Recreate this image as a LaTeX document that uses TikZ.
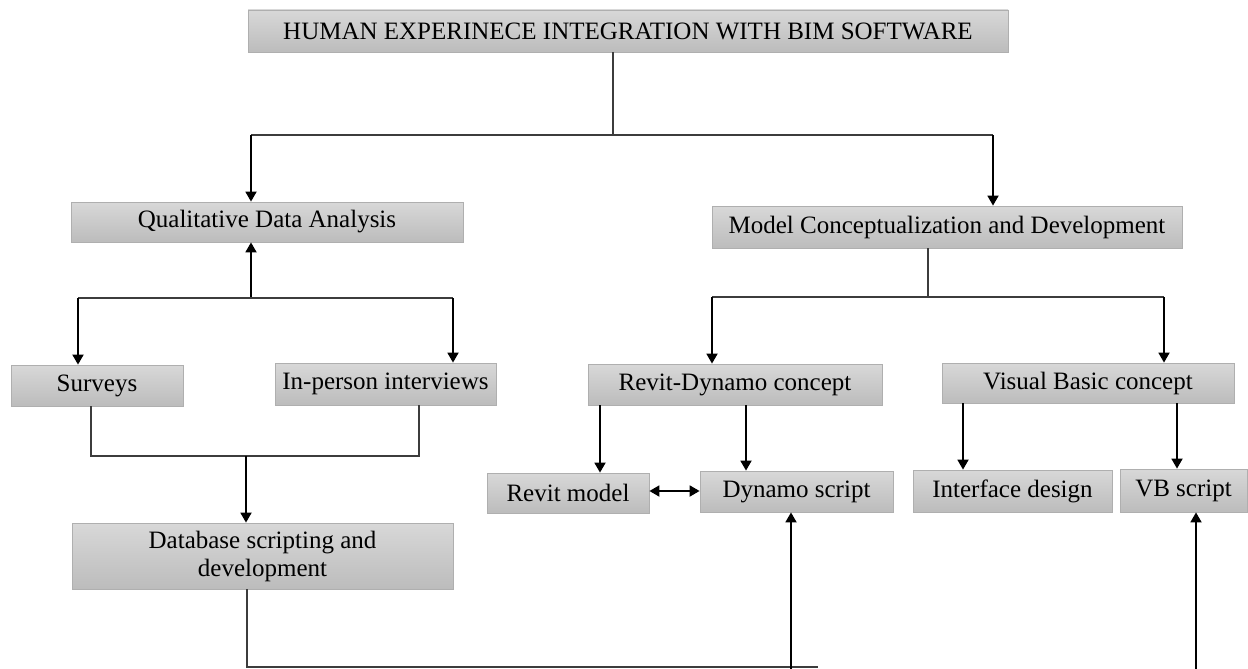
\documentclass[tikz,border=0pt]{standalone}
\usepackage{fontspec}
\setmainfont{Liberation Serif}
\usetikzlibrary{arrows.meta}
\definecolor{boxtop}{RGB}{216,216,216}
\definecolor{boxbot}{RGB}{188,188,188}
\definecolor{boxline}{RGB}{175,175,175}
\definecolor{plainline}{RGB}{60,60,60}
\tikzset{
  box/.style={draw=boxline, line width=0.8pt, top color=boxtop, bottom color=boxbot,
    inner sep=0pt, align=center, font=\fontsize{25}{28}\selectfont},
  plain/.style={draw=plainline, line width=1.3pt},
  arr/.style={draw=black, line width=1.8pt, -{Triangle[width=11pt,length=10pt]}},
  darr/.style={draw=black, line width=1.8pt, {Triangle[width=11pt,length=10pt]}-{Triangle[width=11pt,length=10pt]}}
}
\begin{document}
\begin{tikzpicture}[x=1pt,y=-1pt]
\useasboundingbox (0,0) rectangle (1248,669);
% boxes
\node[box, minimum width=760pt, minimum height=42pt] (title) at (628,31) {HUMAN EXPERINECE INTEGRATION WITH BIM SOFTWARE};
\node[box, minimum width=392pt, minimum height=40pt] (qual) at (267,222) {Qualitative Data Analysis};
\node[box, minimum width=470pt, minimum height=42pt] (model) at (947,227) {Model Conceptualization and Development};
\node[box, minimum width=172pt, minimum height=41pt] (surv) at (97,385.5) {Surveys};
\node[box, minimum width=221pt, minimum height=42pt] (inper) at (385.5,384) {In-person interviews};
\node[box, minimum width=381pt, minimum height=66pt] (db) at (262.5,556) {Database scripting and\\development};
\node[box, minimum width=294pt, minimum height=41pt] (rd) at (735,384.5) {Revit-Dynamo concept};
\node[box, minimum width=292pt, minimum height=40pt] (vbc) at (1088,383) {Visual Basic concept};
\node[box, minimum width=162pt, minimum height=40pt] (rm) at (568,493) {Revit model};
\node[box, minimum width=193pt, minimum height=41pt] (ds) at (796.5,491.5) {Dynamo script};
\node[box, minimum width=199pt, minimum height=42pt] (id) at (1012.5,491) {Interface design};
\node[box, minimum width=127pt, minimum height=43pt] (vbs) at (1183.5,490.5) {VB script};
% junction coordinates
\coordinate (tj) at (613,135);
\coordinate (L1) at (251,135);
\coordinate (R1) at (993,135);
\coordinate (qj) at (251,298);
\coordinate (qL) at (78,298);
\coordinate (qR) at (453,298);
\coordinate (sL) at (91,456);
\coordinate (sR) at (419,456);
\coordinate (sj) at (246,456);
\coordinate (dbx) at (247,667);
\coordinate (dbe) at (818,667);
\coordinate (mj) at (928,297);
\coordinate (mL) at (712,297);
\coordinate (mR) at (1164,297);
\coordinate (dsb) at (791,669);
\coordinate (vbb) at (1196,669);
% title branch
\draw[plain] (title.south -| tj) -- (tj);
\draw[plain] (L1) -- (R1);
\draw[arr] (L1) -- (qual.north -| L1);
\draw[arr] (R1) -- (model.north -| R1);
% qualitative branch
\draw[arr] (qj) -- (qual.south -| qj);
\draw[plain] (qL) -- (qR);
\draw[arr] (qL) -- (surv.north -| qL);
\draw[arr] (qR) -- (inper.north -| qR);
\draw[plain] (surv.south -| sL) -- (sL) -- (sR) -- (inper.south -| sR);
\draw[arr] (sj) -- (db.north -| sj);
\draw[plain] (db.south -| dbx) -- (dbx) -- (dbe);
% model branch
\draw[plain] (model.south -| mj) -- (mj);
\draw[plain] (mL) -- (mR);
\draw[arr] (mL) -- (rd.north -| mL);
\draw[arr] (mR) -- (vbc.north -| mR);
\coordinate (rdA) at (600,405);
\coordinate (rdB) at (746,405);
\draw[arr] (rd.south -| rdA) -- (rm.north -| rdA);
\draw[arr] (rd.south -| rdB) -- (ds.north -| rdB);
\coordinate (vbA) at (963,403);
\coordinate (vbB) at (1177,403);
\draw[arr] (vbc.south -| vbA) -- (id.north -| vbA);
\draw[arr] (vbc.south -| vbB) -- (vbs.north -| vbB);
\coordinate (dy) at (0,491);
\draw[darr] (rm.east |- dy) -- (ds.west |- dy);
% bottom arrows
\draw[arr] (dsb) -- (ds.south -| dsb);
\draw[arr] (vbb) -- (vbs.south -| vbb);
\end{tikzpicture}
\end{document}
